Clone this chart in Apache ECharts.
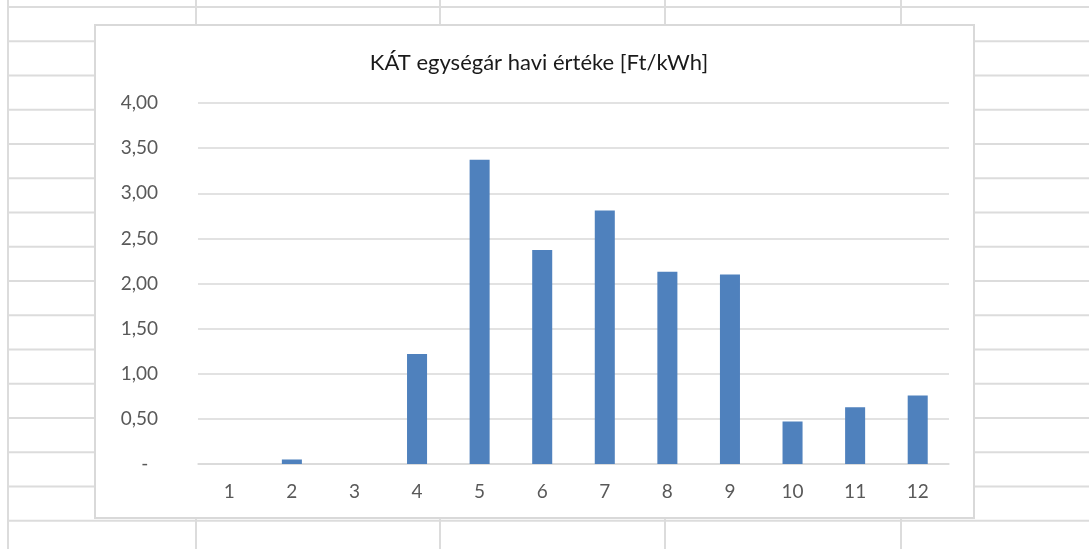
<!DOCTYPE html>
<html>
<head>
<meta charset="utf-8">
<title>KÁT egységár</title>
<script src="https://cdn.jsdelivr.net/npm/echarts@6/dist/echarts.min.js"></script>
<style>
html, body { margin: 0; padding: 0; background: #fff; }
#main { width: 1089px; height: 549px; }
</style>
</head>
<body>
<div id="main"></div>
<script>
// havi adatok
var months = ['1', '2', '3', '4', '5', '6', '7', '8', '9', '10', '11', '12'];
var katPrice = [0, 0.05, 0, 1.22, 3.37, 2.37, 2.81, 2.13, 2.10, 0.47, 0.63, 0.76];
var chartTitle = 'KÁT egységár havi értéke [Ft/kWh]';

// spreadsheet background (cells behind the chart object)
var colX = [8, 196, 440, 665, 901];
var rowH = 34.25;
var lineColor = '#dcdcdc';

function sheetLines() {
    var list = [];
    var y;
    for (var r = 0; r < 17; r++) {
        y = 7 + r * rowH;
        list.push({
            type: 'line', z: -5, silent: true,
            shape: { x1: 8, y1: y, x2: 1089, y2: y },
            style: { stroke: lineColor, lineWidth: 2 }
        });
    }
    for (var c = 0; c < colX.length; c++) {
        list.push({
            type: 'line', z: -5, silent: true,
            shape: { x1: colX[c], y1: 0, x2: colX[c], y2: 549 },
            style: { stroke: lineColor, lineWidth: 2 }
        });
    }
    // chart object frame
    list.push({
        type: 'rect', z: -1, silent: true,
        shape: { x: 95, y: 25, width: 879, height: 493 },
        style: { fill: '#fff', stroke: '#d9d9d9', lineWidth: 2 }
    });
    return list;
}

var myChart = echarts.init(document.getElementById('main'));

var option = {
    backgroundColor: '#fff',
    animation: false,
    graphic: sheetLines(),
    title: {
        text: chartTitle,
        left: 534,
        top: 47,
        textAlign: 'center',
        textStyle: {
            fontFamily: 'Lato',
            fontSize: 22,
            fontWeight: 'normal',
            color: '#1a1a1a'
        }
    },
    grid: {
        left: 198,
        right: 140,
        top: 103,
        bottom: 85
    },
    xAxis: {
        type: 'category',
        data: months,
        axisLine: { lineStyle: { color: '#d9d9d9', width: 1.5 } },
        axisTick: { show: false },
        axisLabel: {
            margin: 18,
            fontFamily: 'Lato',
            fontSize: 19,
            color: '#595959'
        }
    },
    yAxis: {
        type: 'value',
        min: 0,
        max: 4,
        interval: 0.5,
        axisLine: { show: false },
        axisTick: { show: false },
        splitLine: { lineStyle: { color: '#d9d9d9', width: 1.5 } },
        axisLabel: {
            margin: 40,
            fontFamily: 'Lato',
            fontSize: 19,
            color: '#595959',
            formatter: function (v) {
                if (v === 0) {
                    return '-  ';
                }
                return v.toFixed(2).replace('.', ',');
            }
        }
    },
    series: [
        {
            name: 'KÁT',
            type: 'bar',
            data: katPrice,
            barWidth: '32%',
            itemStyle: { color: '#4f81bd' }
        }
    ]
};

myChart.setOption(option);
</script>
</body>
</html>
